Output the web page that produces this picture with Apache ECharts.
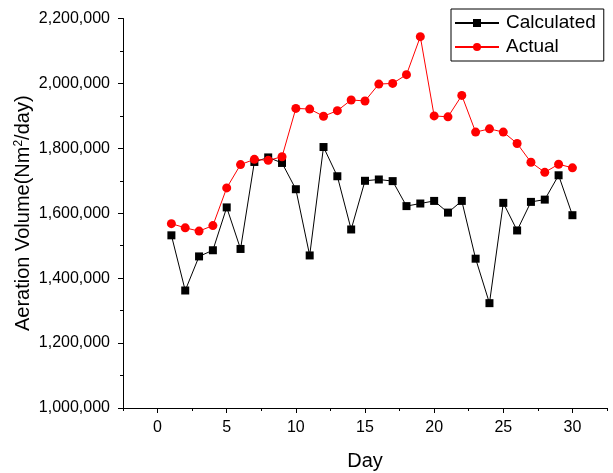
<!DOCTYPE html>
<html>
<head>
<meta charset="utf-8">
<script src="https://cdn.jsdelivr.net/npm/echarts@6/dist/echarts.min.js"></script>
<style>
  html, body { margin: 0; padding: 0; background: #fff; }
  #chart { width: 613px; height: 473px; }
</style>
</head>
<body>
<div id="chart"></div>
<script>
// day numbers on the x axis
const days = [1, 2, 3, 4, 5, 6, 7, 8, 9, 10, 11, 12, 13, 14, 15,
  16, 17, 18, 19, 20, 21, 22, 23, 24, 25, 26, 27, 28, 29, 30]

// aeration volume (Nm2/day)
const calculated = [1532000, 1362000, 1467000, 1486000, 1618000, 1490000, 1758000, 1772000, 1755000, 1674000,
  1470000, 1804000, 1714000, 1550000, 1700000, 1704000, 1699000, 1622000, 1630000, 1638000,
  1602000, 1638000, 1460000, 1323000, 1632000, 1547000, 1635000, 1642000, 1717000, 1594000]
const actual = [1568000, 1555000, 1545000, 1562000, 1678000, 1750000, 1766000, 1763000, 1774000, 1923000,
  1921000, 1899000, 1916000, 1949000, 1946000, 1998000, 2000000, 2027000, 2144000, 1900000,
  1897000, 1963000, 1850000, 1860000, 1850000, 1815000, 1757000, 1726000, 1751000, 1740000]

const xTicks = [0, 5, 10, 15, 20, 25, 30]

const FONT = '"Liberation Sans", Arial, sans-serif'

const chart = echarts.init(document.getElementById('chart'))

const pairs = (ys) => days.map((d, i) => [d, ys[i]])

const option = {
  animation: false,
  grid: { left: 123, right: 6, top: 18.5, bottom: 65, outerBoundsMode: 'none' },
  legend: {
    orient: 'vertical',
    left: 451,
    top: 9,
    padding: [4.5, 8, 4.5, 3],
    itemGap: 5,
    itemWidth: 44,
    itemHeight: 10,
    borderColor: '#000',
    borderWidth: 1,
    textStyle: { fontFamily: FONT, fontSize: 19, color: '#000', lineHeight: 19, padding: [0, 0, 0, 2] },
    data: ['Calculated', 'Actual'],
  },
  xAxis: [
    {
      type: 'value',
      min: -2.5,
      max: 32.5,
      name: 'Day',
      nameLocation: 'middle',
      nameGap: 43,
      nameMoveOverlap: false,
      nameTextStyle: { fontFamily: FONT, fontSize: 20, color: '#000' },
      axisLine: { onZero: false, lineStyle: { color: '#000', width: 1 } },
      axisTick: { customValues: xTicks, length: 5, lineStyle: { color: '#000' } },
      axisLabel: { customValues: xTicks, margin: 12, fontFamily: FONT, fontSize: 16, color: '#000' },
      splitLine: { show: false },
    },
    {
      // minor ticks every 2.5 days
      type: 'value',
      position: 'bottom',
      min: -2.5,
      max: 32.5,
      interval: 2.5,
      axisLine: { show: false, onZero: false },
      axisTick: { length: 3, lineStyle: { color: '#000' } },
      axisLabel: { show: false },
      splitLine: { show: false },
    },
  ],
  yAxis: {
    type: 'value',
    min: 1000000,
    max: 2200000,
    interval: 200000,
    name: 'Aeration Volume(Nm{sup|2}/day)',
    nameLocation: 'middle',
    nameGap: 90,
    nameMoveOverlap: false,
    nameTextStyle: {
      fontFamily: FONT,
      fontSize: 20,
      color: '#000',
      rich: {
        sup: { fontFamily: FONT, fontSize: 12, color: '#000', verticalAlign: 'top', padding: [0, 0, 8, 0] },
      },
    },
    axisLine: { show: true, onZero: false, lineStyle: { color: '#000', width: 1 } },
    axisTick: { show: true, length: 5, lineStyle: { color: '#000' } },
    minorTick: { show: true, splitNumber: 2, length: 3, lineStyle: { color: '#000' } },
    axisLabel: {
      margin: 13,
      fontFamily: FONT,
      fontSize: 16,
      color: '#000',
      formatter: (v) => v.toLocaleString('en-US'),
    },
    splitLine: { show: false },
    minorSplitLine: { show: false },
  },
  series: [
    {
      name: 'Calculated',
      type: 'line',
      data: pairs(calculated),
      symbol: 'rect',
      symbolSize: 8,
      lineStyle: { color: '#000', width: 1 },
      itemStyle: { color: '#000' },
    },
    {
      name: 'Actual',
      type: 'line',
      data: pairs(actual),
      symbol: 'circle',
      symbolSize: 9,
      lineStyle: { color: '#ff0000', width: 1 },
      itemStyle: { color: '#ff0000' },
    },
  ],
}

chart.setOption(option)
</script>
</body>
</html>
